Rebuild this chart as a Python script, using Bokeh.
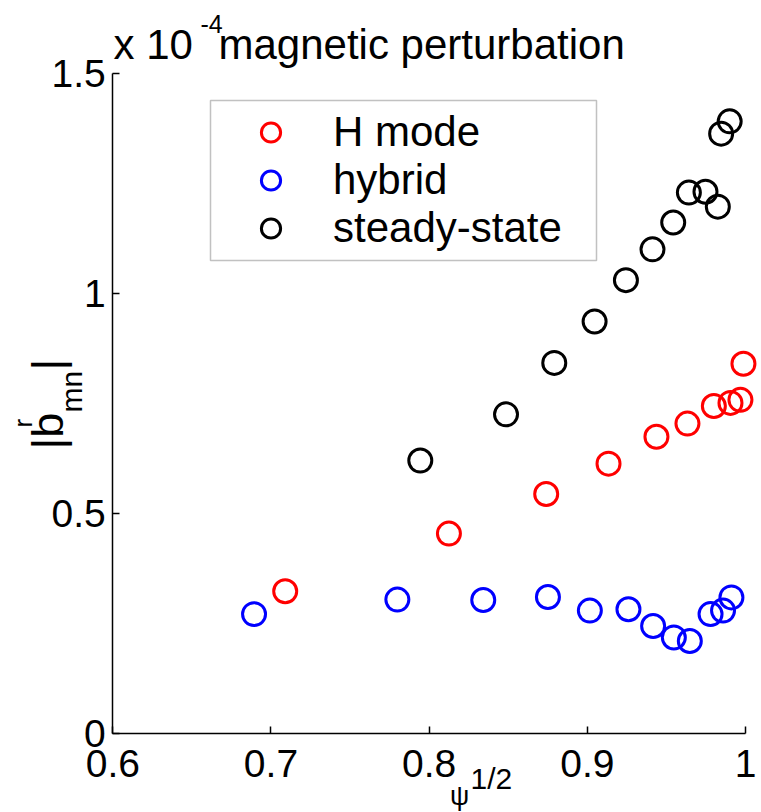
import numpy as np
from bokeh.plotting import figure
from bokeh.models import (Range1d, FixedTicker, Label, Legend, LegendItem,
                          BoxAnnotation)
from bokeh.embed import file_html
from bokeh.resources import INLINE

# ---- data ----
hmode_x = [0.709, 0.8125, 0.874, 0.9134, 0.9437, 0.9633, 0.980, 0.9905, 0.9968, 0.9987]
hmode_y = [0.324, 0.455, 0.545, 0.614, 0.675, 0.705, 0.745, 0.752, 0.759, 0.841]

hybrid_x = [0.6893, 0.7799, 0.8342, 0.8751, 0.9016, 0.926, 0.9416, 0.9547, 0.9648, 0.9779, 0.9858, 0.9911]
hybrid_y = [0.272, 0.305, 0.304, 0.311, 0.280, 0.283, 0.245, 0.219, 0.211, 0.272, 0.280, 0.310]

steady_x = [0.7944, 0.8486, 0.8791, 0.9046, 0.9244, 0.9412, 0.9543, 0.9642, 0.9747, 0.9825, 0.9846, 0.990]
steady_y = [0.621, 0.726, 0.843, 0.937, 1.031, 1.101, 1.162, 1.230, 1.232, 1.198, 1.364, 1.392]

series_names = ["H mode", "hybrid", "steady-state"]
series_colors = ["#ff0000", "#0000ff", "#000000"]

x_ticks = [0.6, 0.7, 0.8, 0.9, 1.0]
x_tick_labels = ["0.6", "0.7", "0.8", "0.9", "1"]
y_ticks = [0.0, 0.5, 1.0, 1.5]
y_tick_labels = ["0", "0.5", "1", "1.5"]

FONT = "Liberation Sans"

# ---- layout: the frame fills the whole canvas; axes are pinned inside it ----
W, H = 761, 812
AX_LEFT, AX_RIGHT = 112.3, 745.0     # canvas px of x = 0.6 and x = 1.0
AX_BOTTOM, AX_TOP = 733.3, 73.3      # canvas px of y = 0 and y = 1.5
sx_per = (AX_RIGHT - AX_LEFT) / (x_ticks[-1] - x_ticks[0])
sy_per = (AX_BOTTOM - AX_TOP) / (y_ticks[-1] - y_ticks[0])
x0 = x_ticks[0] - AX_LEFT / sx_per
x1 = x_ticks[0] + (W - AX_LEFT) / sx_per
y1 = y_ticks[0] + AX_BOTTOM / sy_per
y0 = y_ticks[0] - (H - AX_BOTTOM) / sy_per


def cx(px):
    return x0 + px / sx_per


def cy(py):
    return y1 - py / sy_per


p = figure(width=W, height=H, output_backend="svg", toolbar_location=None,
           x_range=Range1d(x0, x1), y_range=Range1d(y0, y1),
           min_border=0, min_border_left=0, min_border_right=0,
           min_border_top=0, min_border_bottom=0)
p.outline_line_color = None
p.grid.visible = False
p.background_fill_color = "white"
p.border_fill_color = "white"

p.xaxis[0].fixed_location = y_ticks[0]
p.yaxis[0].fixed_location = x_ticks[0]
p.xaxis[0].bounds = (x_ticks[0], x_ticks[-1])
p.yaxis[0].bounds = (y_ticks[0], y_ticks[-1])

for ax in (p.xaxis[0], p.yaxis[0]):
    ax.axis_line_color = "black"
    ax.axis_line_width = 1.5
    ax.major_tick_line_color = "black"
    ax.major_tick_line_width = 1.5
    ax.major_tick_in = 7
    ax.major_tick_out = 0
    ax.minor_tick_line_color = None
    ax.major_label_text_font = FONT
    ax.major_label_text_font_size = "39px"
    ax.major_label_text_color = "black"

p.xaxis[0].ticker = FixedTicker(ticks=x_ticks)
p.xaxis[0].major_label_overrides = {t: l for t, l in zip(x_ticks, x_tick_labels)}
p.xaxis[0].major_label_standoff = 16
p.yaxis[0].ticker = FixedTicker(ticks=y_ticks)
p.yaxis[0].major_label_standoff = 7
p.yaxis[0].major_label_overrides = {t: l for t, l in zip(y_ticks, y_tick_labels)}

renderers = []
for xs, ys, c in zip([hmode_x, hybrid_x, steady_x], [hmode_y, hybrid_y, steady_y], series_colors):
    r = p.scatter(xs, ys, marker="circle", size=23, fill_color=None,
                  line_color=c, line_width=3)
    renderers.append(r)

# legend frame (canvas px 210..596 x 100..260)
p.add_layout(BoxAnnotation(left=cx(210), right=cx(596), bottom=cy(260), top=cy(100),
                           fill_color="white", fill_alpha=1.0,
                           line_color="#333333", line_width=1.5, level="annotation"))

legend = Legend(items=[LegendItem(label=n, renderers=[r]) for n, r in zip(series_names, renderers)],
                location=(210, H - 260), orientation="vertical",
                label_text_font=FONT, label_text_font_size="42px", label_text_color="black",
                glyph_width=105, glyph_height=48, label_height=48,
                label_standoff=10, spacing=0, padding=8, margin=0,
                border_line_alpha=0, background_fill_alpha=0)
p.add_layout(legend, "center")


def clabel(px, py, text, size, angle=0.0, align="left"):
    # shift the anchor "up" in the text's own frame by 0.3 em to
    # compensate for where the alphabetic baseline is drawn
    s = float(size.replace("px", ""))
    d = 0.3 * s
    if angle == 0.0:
        py = py - d
    else:
        px = px - d
    p.add_layout(Label(x=cx(px), y=cy(py), text=text,
                       angle=angle, text_font=FONT, text_font_size=size,
                       text_color="black", text_baseline="alphabetic",
                       text_align=align))


# title parts (canvas px)
clabel(113, 57, "x 10", "42px")
clabel(200, 31, "-4", "25px")
clabel(218, 57, "magnetic perturbation", "42px")

# x-axis label: psi^(1/2)
clabel(470, 787, "1/2", "30px")
clabel(459, 804, "\u03c8", "27px", align="center")

# y-axis label: |b^r_mn| rotated
ang = np.pi / 2
clabel(60, 449, "|b", "45px", angle=ang)
clabel(30, 427, "r", "26px", angle=ang)
clabel(80, 412, "mn", "30px", angle=ang)
clabel(60, 370, "|", "45px", angle=ang)

open("out.html", "w").write(file_html(p, INLINE))
